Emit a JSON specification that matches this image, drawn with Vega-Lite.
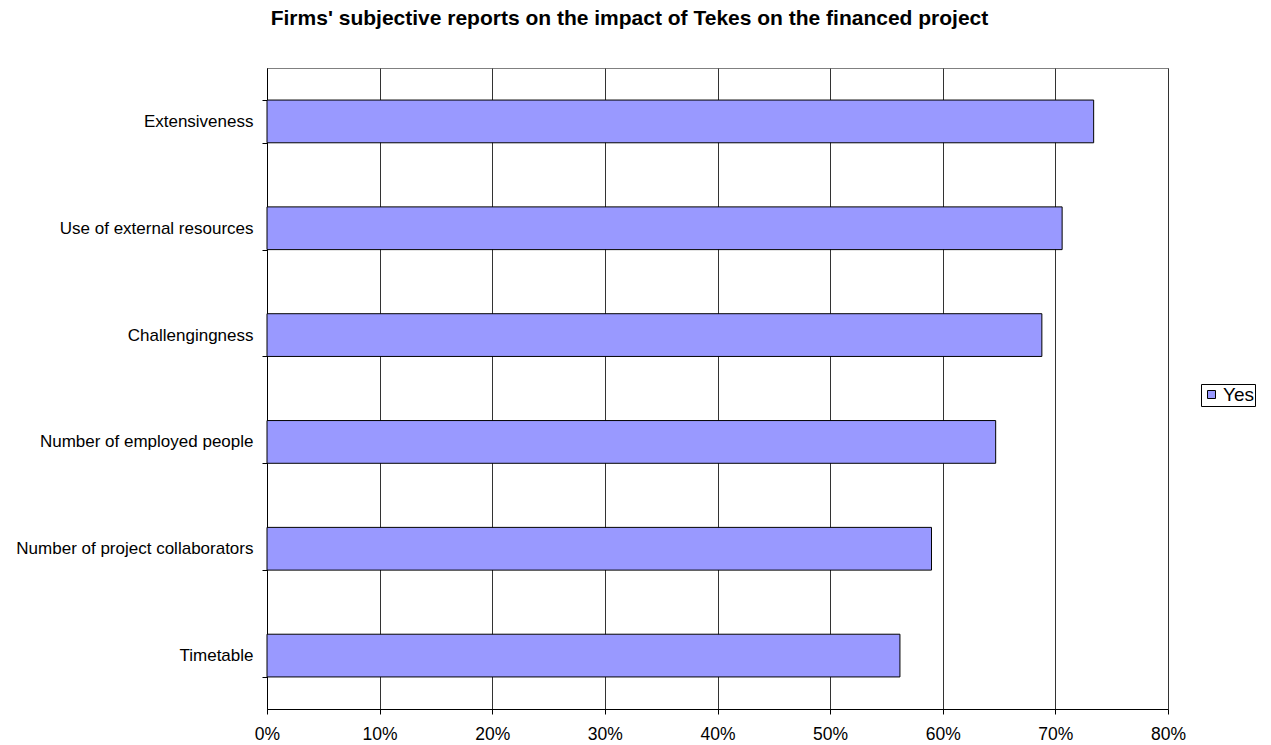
{
  "$schema": "https://vega.github.io/schema/vega-lite/v6.json",
  "width": 901,
  "height": 641,
  "autosize": "none",
  "padding": {"left": 267, "top": 68, "right": 103, "bottom": 36},
  "background": "white",
  "title": {
    "text": "Firms' subjective reports on the impact of Tekes on the financed project",
    "font": "Liberation Sans",
    "fontSize": 21,
    "fontWeight": "bold",
    "color": "black",
    "anchor": "middle",
    "frame": "group",
    "dx": -88,
    "baseline": "alphabetic",
    "offset": 13
  },
  "config": {
    "view": {"stroke": "#808080", "strokeWidth": 1},
    "axis": {
      "labelFont": "Liberation Sans",
      "labelColor": "black",
      "domainColor": "black",
      "tickColor": "black",
      "tickSize": 5
    }
  },
  "data": {
    "values": [
      {"item": "Extensiveness", "series": "Yes", "value": 0.734},
      {"item": "Use of external resources", "series": "Yes", "value": 0.706},
      {"item": "Challengingness", "series": "Yes", "value": 0.688},
      {"item": "Number of employed people", "series": "Yes", "value": 0.647},
      {"item": "Number of project collaborators", "series": "Yes", "value": 0.590},
      {"item": "Timetable", "series": "Yes", "value": 0.562}
    ]
  },
  "mark": {"type": "bar", "stroke": "black", "strokeWidth": 1},
  "encoding": {
    "y": {
      "field": "item",
      "type": "nominal",
      "sort": null,
      "scale": {"paddingInner": 0.6, "paddingOuter": 0.3},
      "axis": {
        "title": null,
        "tickBand": "extent",
        "grid": false,
        "labelFontSize": 17,
        "labelLimit": 0,
        "labelPadding": 9,
        "domainColor": "black"
      }
    },
    "x": {
      "field": "value",
      "type": "quantitative",
      "scale": {"domain": [0, 0.8], "nice": false},
      "axis": {
        "title": null,
        "format": ".0%",
        "values": [0, 0.1, 0.2, 0.3, 0.4, 0.5, 0.6, 0.7, 0.8],
        "grid": true,
        "gridColor": "#333333",
        "gridOpacity": 1,
        "labelFontSize": 17.5,
        "labelPadding": 11,
        "labelFlush": false
      }
    },
    "color": {
      "field": "series",
      "type": "nominal",
      "scale": {"range": ["#9999FF"]},
      "legend": {
        "title": null,
        "orient": "none",
        "legendX": 934,
        "legendY": 316,
        "symbolType": "square",
        "symbolSize": 64,
        "symbolStrokeColor": "black",
        "symbolStrokeWidth": 1,
        "symbolOpacity": 1,
        "labelFont": "Liberation Sans",
        "labelFontSize": 19,
        "labelColor": "black",
        "labelOffset": 2,
        "strokeColor": "black",
        "fillColor": "white",
        "padding": 1
      }
    }
  }
}
